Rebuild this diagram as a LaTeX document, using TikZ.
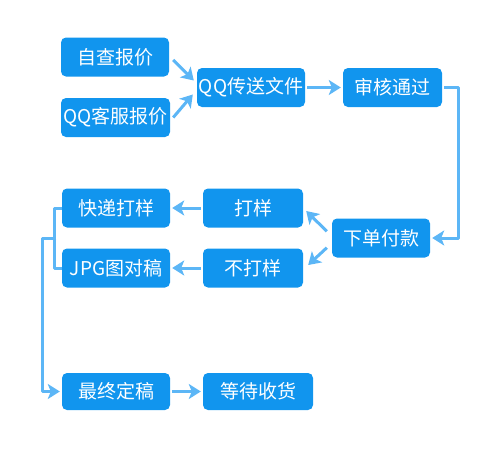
\documentclass[tikz,border=0pt]{standalone}
\usepackage{fontspec}
\newfontfamily\cjk{Noto Sans CJK SC}
\usetikzlibrary{arrows.meta,calc}
\definecolor{boxblue}{HTML}{1195EE}
\definecolor{arrowblue}{HTML}{5CB6F6}
\begin{document}
\begin{tikzpicture}[x=1pt,y=-1pt,line join=round,
	box/.style={fill=boxblue,rounded corners=5pt,text=white,minimum height=39pt,
		inner sep=0pt,font=\cjk\fontsize{19}{19}\selectfont},
	arr/.style={draw=arrowblue,line width=3pt,-{Stealth[length=12pt,width=15pt,inset=3pt]},
		shorten >=2pt,shorten <=2pt},
	link/.style={draw=arrowblue,line width=3pt}]
	\useasboundingbox (0,0) rectangle (500,450);
	% top row
	\node[box,minimum width=108pt] (zicha) at (115,57) {自查报价};
	\node[box,minimum width=109pt] (kefu) at (115.5,117.5) {QQ客服报价};
	\node[box,minimum width=108pt] (chuansong) at (251,87.5) {QQ传送文件};
	\node[box,minimum width=99pt] (shenhe) at (392.5,87.5) {审核通过};
	% middle
	\node[box,minimum width=98pt] (xiadan) at (381,238) {下单付款};
	\node[box,minimum width=100pt] (dayang) at (253,208) {打样};
	\node[box,minimum width=100pt] (budayang) at (253,268) {不打样};
	\node[box,minimum width=108pt] (kuaidi) at (116,208) {快递打样};
	\node[box,minimum width=108pt] (jpg) at (116,268) {JPG图对稿};
	% bottom
	\node[box,minimum width=108pt,minimum height=37pt] (zuizhong) at (116,391.5) {最终定稿};
	\node[box,minimum width=110pt,minimum height=37pt] (dengdai) at (258,391.5) {等待收货};
	% connectors
	\draw[arr,shorten <=0pt,shorten >=0pt] ([shift={(4,3)}]zicha.east) -- ([shift={(-3,-7)}]chuansong.west);
	\draw[arr,shorten <=0pt,shorten >=0pt] ([shift={(3,0)}]kefu.east) -- ([shift={(-4,7)}]chuansong.west);
	\draw[arr] (chuansong.east) -- (shenhe.west);
	\draw[arr] (shenhe.east) -- ++(16,0) |- (xiadan.east);
	\draw[arr,shorten <=0pt,shorten >=0pt] ([shift={(-5,13)}]xiadan.north west) -- ([shift={(3,3)}]dayang.east);
	\draw[arr,shorten <=0pt,shorten >=0pt] ([shift={(-5,-10)}]xiadan.south west) -- ([shift={(5,-3)}]budayang.east);
	\draw[arr] (dayang.west) -- (kuaidi.east);
	\draw[arr] (budayang.west) -- (jpg.east);
	\draw[link] (kuaidi.west) -- ++(-7,0) |- (jpg.west);
	\coordinate (fork) at ($(kuaidi.west)!.5!(jpg.west)+(-7,0)$);
	\draw[arr,shorten <=-1.5pt] (fork) -- ++(-12,0) |- (zuizhong.west);
	\draw[arr] (zuizhong.east) -- (dengdai.west);
\end{tikzpicture}
\end{document}
